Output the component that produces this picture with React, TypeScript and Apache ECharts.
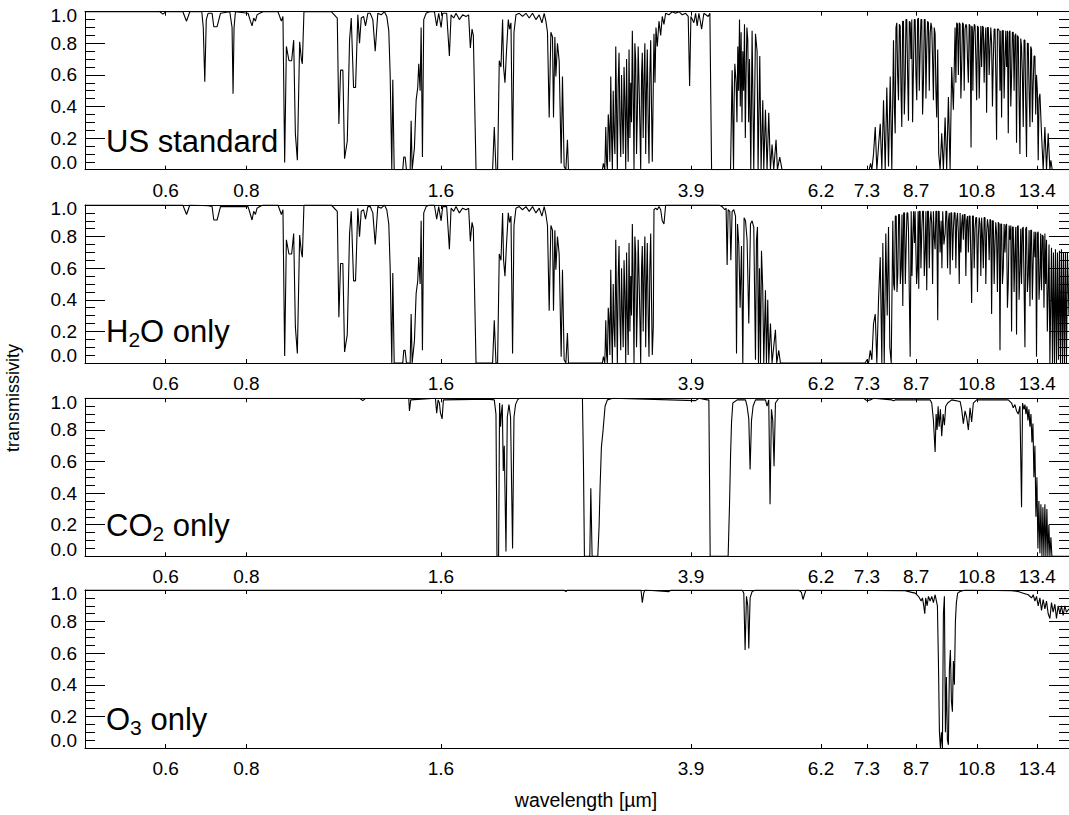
import React, { useEffect, useRef } from 'react';
import * as echarts from 'echarts';

// ---------------- data ----------------
const WL_MIN = 0.45;
const WL_MAX = 15;
const wavelengthTicks = [0.6, 0.8, 1.6, 3.9, 6.2, 7.3, 8.7, 10.8, 13.4];
const transTicks = [0.0, 0.2, 0.4, 0.6, 0.8, 1.0];
const panelNames = ['US standard', 'H2O only', 'CO2 only', 'O3 only'];

// [wavelength µm, transmissivity]
const usVisible: number[][] = [
  [0.45, 1], [0.5877, 1], [0.594, 0.985], [0.6003, 1], [0.6377, 1], [0.6462, 0.94], [0.6538, 1],
  [0.6823, 1], [0.6859, 0.9], [0.6896, 0.556], [0.6933, 0.95], [0.6978, 0.99], [0.7078, 0.99],
  [0.7121, 0.905], [0.7205, 0.905], [0.7293, 0.99], [0.7538, 1], [0.76, 0.9], [0.7627, 0.48],
  [0.7654, 0.9], [0.7692, 1], [0.8045, 0.99], [0.8114, 0.94], [0.8161, 0.91], [0.821, 0.96],
  [0.826, 0.94], [0.8307, 0.98], [0.8387, 0.99], [0.8486, 1], [0.8951, 1], [0.9005, 0.97],
  [0.906, 0.94], [0.9111, 0.97],
];

const h2oVisible: number[][] = [
  [0.45, 1], [0.6377, 1], [0.6462, 0.94], [0.6538, 1], [0.6978, 0.995], [0.7078, 0.99],
  [0.7121, 0.905], [0.7205, 0.905], [0.7293, 0.99], [0.8045, 0.99], [0.8114, 0.94], [0.8161, 0.905],
  [0.821, 0.96], [0.826, 0.94], [0.8307, 0.98], [0.8387, 0.99], [0.8486, 1], [0.8951, 1],
  [0.9005, 0.97], [0.906, 0.94], [0.9111, 0.97],
];

const h2oNearIR: number[][] = [
  [0.9167, 0.045], [0.9223, 0.78], [0.9308, 0.69], [0.9398, 0.69], [0.9466, 0.82], [0.9523, 0.23],
  [0.9591, 0.06], [0.967, 0.81], [0.9729, 0.7], [0.9763, 0.67], [0.9819, 1], [1.0823, 1],
  [1.1057, 0.96], [1.112, 0.29], [1.1188, 0.63], [1.128, 0.63], [1.1348, 0.07], [1.1458, 0.18],
  [1.1552, 0.82], [1.1622, 0.96], [1.1718, 0.52], [1.1801, 0.52], [1.1898, 0.98], [1.197, 0.8],
  [1.2043, 0.96], [1.2142, 0.97], [1.2228, 0.91], [1.2329, 0.99], [1.2435, 0.99], [1.2551, 0.95],
  [1.2658, 0.75], [1.2775, 0.99], [1.2931, 0.98], [1.3083, 1], [1.3191, 0.97], [1.3285, 0.88],
  [1.3351, 0.6], [1.3428, 0], [1.3476, 0.57], [1.3543, 0], [1.3964, 0], [1.4014, 0.08],
  [1.4083, 0.08], [1.4148, 0], [1.4336, 0], [1.4387, 0.31], [1.4439, 0], [1.4557, 0.14],
  [1.4645, 0.44], [1.4729, 0.52], [1.4782, 0.67], [1.4855, 0.5], [1.4909, 0.9], [1.4978, 0.08],
  [1.5047, 0.95], [1.5176, 0.99], [1.5355, 1], [1.563, 1], [1.5758, 0.91], [1.5871, 0.99],
  [1.6008, 0.9], [1.6099, 0.99], [1.6329, 0.99], [1.6487, 0.72], [1.6587, 0.98], [1.6742, 0.96],
  [1.6884, 0.99], [1.7083, 0.95], [1.7286, 0.98], [1.7496, 0.97], [1.7658, 0.98], [1.7766, 0.77],
  [1.7874, 0.89], [1.7957, 0.85], [1.8039, 0.44], [1.8129, 0], [1.9232, 0], [1.9348, 0.27],
  [1.9465, 0], [1.9577, 0], [1.9695, 0.69], [1.9815, 0.65], [1.9929, 0.95], [2.0, 0.65],
  [2.0099, 0.55], [2.0214, 0.76], [2.0337, 0.95], [2.0431, 0.89], [2.0533, 0.93], [2.0651, 0.06],
  [2.0754, 0.87], [2.0901, 0.98], [2.1148, 0.99], [2.1398, 0.97], [2.1658, 0.99], [2.1914, 0.96],
  [2.2173, 0.99], [2.2441, 0.95], [2.2707, 0.98], [2.2927, 0.93], [2.3114, 0.99], [2.3254, 0.94],
  [2.3387, 0.87], [2.3529, 0.33], [2.3672, 0.87], [2.3808, 0.84], [2.3893, 0.33], [2.4011, 0.84],
  [2.4096, 0.59], [2.4234, 0.8], [2.4381, 0.69], [2.4556, 0.04], [2.467, 0.59], [2.4818, 0.02],
  [2.4969, 0], [2.5111, 0.19], [2.5201, 0], [2.8442, 0],
];

const h2oBand3um: number[][] = [
  [2.8543, 0.04], [2.8684, 0], [2.8735, 0.12], [2.8786, 0.27], [2.887, 0.05], [2.895, 0],
  [2.904, 0.35], [2.9126, 0.27], [2.921, 0.05], [2.9303, 0.59], [2.939, 0.2], [2.9471, 0],
  [2.956, 0.5], [2.9648, 0.23], [2.974, 0.1], [2.9828, 0.78], [2.991, 0.4], [2.9998, 0],
  [3.009, 0.55], [3.018, 0.74], [3.027, 0.3], [3.0364, 0.08], [3.045, 0.6], [3.0538, 0.33],
  [3.063, 0.1], [3.0722, 0.65], [3.081, 0.45], [3.0908, 0], [3.1, 0.7], [3.1085, 0.31],
  [3.118, 0.05], [3.1274, 0.76], [3.137, 0.2], [3.1464, 0.55], [3.155, 0.3], [3.1644, 0.88],
  [3.174, 0.5], [3.1834, 0], [3.193, 0.8], [3.2027, 0.69], [3.212, 0.1], [3.221, 0.33],
  [3.231, 0.78], [3.2406, 0.55], [3.25, 0.3], [3.2603, 0], [3.27, 0.6], [3.2789, 0.74],
  [3.289, 0.2], [3.2987, 0.57], [3.309, 0.8], [3.3187, 0.1], [3.328, 0.5], [3.3377, 0.76],
  [3.348, 0.3], [3.3579, 0.04], [3.368, 0.6], [3.3784, 0.82], [3.388, 0.4], [3.3977, 0.05],
];

const usMidIR: number[][] = [
  [3.4181, 0.86], [3.4303, 0.55], [3.4425, 0.9], [3.4585, 0.78], [3.4795, 0.94], [3.5007, 0.85],
  [3.5207, 0.97], [3.5418, 0.92], [3.5633, 0.99], [3.6054, 0.98], [3.6481, 1], [3.6924, 0.99],
  [3.736, 1], [3.7802, 0.98], [3.8261, 0.99], [3.8617, 0.97], [3.881, 0.53], [3.899, 0.97],
  [3.9406, 0.93], [3.9645, 0.99], [3.9872, 0.91], [4.0114, 0.99], [4.0358, 0.93], [4.0502, 0.89],
  [4.0833, 0.99], [4.1463, 0.97], [4.1715, 0.99], [4.1969, 0], [4.463, 0],
  [4.4902, 0], [4.5159, 0.63], [4.5385, 0], [4.549, 0.45], [4.5592, 0.67], [4.5803, 0.55],
  [4.594, 0.3], [4.6081, 0.78], [4.622, 0.5], [4.6361, 0.95], [4.649, 0.4], [4.6627, 0.87],
  [4.677, 0.3], [4.691, 0.75], [4.705, 0.5], [4.7193, 0.92], [4.733, 0.2], [4.7462, 0.6],
  [4.76, 0.9], [4.775, 0.82], [4.79, 0.3], [4.804, 0.7], [4.8263, 0], [4.8488, 0.88], [4.878, 0],
  [4.9076, 0.86], [4.9357, 0.75], [4.9533, 0], [4.9834, 0.72], [5.0065, 0], [5.0369, 0.44],
  [5.0546, 0], [5.0853, 0.38], [5.1143, 0], [5.1454, 0.36], [5.1767, 0], [5.2063, 0.16],
  [5.2376, 0], [5.2807, 0.19], [5.3071, 0], [5.3507, 0.08], [5.3948, 0], [7.3614, 0],
  [7.3956, 0.04], [7.43, 0], [7.4746, 0.1], [7.52, 0.27], [7.563, 0], [7.6088, 0.15],
  [7.6552, 0.29], [7.6989, 0], [7.7452, 0.44], [7.7922, 0], [7.8368, 0.52], [7.8843, 0.02],
  [7.9323, 0.59], [7.9776, 0], [8.0257, 0.82], [8.05, 0.4], [8.0744, 0.23], [8.097, 0.9],
  [8.1206, 0.93], [8.145, 0.6], [8.1698, 0.44], [8.195, 0.92], [8.2196, 0.91], [8.243, 0.5],
  [8.2666, 0.27], [8.291, 0.94], [8.3162, 0.94], [8.341, 0.35], [8.3667, 0.55], [8.39, 0.95],
  [8.4145, 0.95], [8.44, 0.6], [8.4656, 0.31], [8.491, 0.94], [8.5171, 0.93], [8.541, 0.7],
  [8.5658, 0.95], [8.591, 0.3], [8.6173, 0.65], [8.643, 0.95], [8.6696, 0.95], [8.694, 0.6],
  [8.7192, 0.44], [8.745, 0.95], [8.7721, 0.96], [8.798, 0.5], [8.8255, 0.76], [8.85, 0.95],
  [8.8759, 0.95], [8.902, 0.35], [8.9293, 0.55], [8.956, 0.95], [8.9835, 0.95], [9.009, 0.45],
  [9.0348, 0.76], [9.062, 0.94], [9.0897, 0.93], [9.117, 0.5], [9.145, 0.86], [9.171, 0.93],
  [9.1973, 0.9], [9.225, 0.7], [9.2526, 0.44], [9.28, 0.9], [9.3088, 0.86], [9.335, 0.5],
  [9.362, 0.33], [9.3954, 0.76], [9.4289, 0.1], [9.4761, 0], [9.5303, 0.23], [9.5876, 0],
  [9.6458, 0.33], [9.7009, 0], [9.7598, 0.46], [9.8192, 0], [9.8753, 0.65], [9.9347, 0.38],
  [9.995, 0.9], [10.023, 0.55], [10.052, 0.93], [10.082, 0.92], [10.113, 0.6], [10.144, 0.93],
  [10.175, 0.92], [10.204, 0.45], [10.233, 0.65], [10.263, 0.93], [10.294, 0.92], [10.325, 0.5],
  [10.356, 0.89], [10.386, 0.92], [10.416, 0.91], [10.447, 0.7], [10.479, 0.55], [10.511, 0.92],
  [10.543, 0.91], [10.56, 0.6], [10.58, 0.14], [10.605, 0.91], [10.629, 0.9], [10.65, 0.5],
  [10.678, 0.86], [10.705, 0.92], [10.732, 0.91], [10.762, 0.7], [10.793, 0.44], [10.826, 0.91],
  [10.859, 0.9], [10.892, 0.45], [10.925, 0.7], [10.956, 0.91], [10.987, 0.65], [11.02, 0.91],
  [11.053, 0.9], [11.086, 0.55], [11.12, 0.8], [11.152, 0.9], [11.184, 0.36], [11.218, 0.9],
  [11.252, 0.9], [11.286, 0.6], [11.32, 0.78], [11.352, 0.9], [11.385, 0.8], [11.419, 0.4],
  [11.453, 0.69], [11.488, 0.89], [11.523, 0.89], [11.555, 0.6], [11.588, 0.19], [11.623, 0.89],
  [11.659, 0.89], [11.694, 0.88], [11.73, 0.5], [11.763, 0.88], [11.797, 0.33], [11.832, 0.88],
  [11.868, 0.88], [11.904, 0.45], [11.94, 0.7], [11.974, 0.88], [12.008, 0.65], [12.045, 0.88],
  [12.081, 0.23], [12.118, 0.87], [12.155, 0.88], [12.19, 0.4], [12.224, 0.59], [12.26, 0.87],
  [12.297, 0.87], [12.334, 0.5], [12.372, 0.85], [12.407, 0.86], [12.442, 0.17], [12.48, 0.85],
  [12.518, 0.84], [12.556, 0.45], [12.594, 0.1], [12.63, 0.83], [12.666, 0.78], [12.704, 0.6],
  [12.743, 0.27], [12.78, 0.82], [12.82, 0.82], [12.857, 0.4], [12.894, 0.08], [12.933, 0.8],
  [12.972, 0.8], [13.011, 0.5], [13.051, 0.27], [13.088, 0.78], [13.125, 0.76], [13.164, 0.3],
  [13.204, 0.55], [13.244, 0.72], [13.284, 0.72], [13.322, 0.35], [13.36, 0.6], [13.4, 0.5],
  [13.441, 0.06], [13.48, 0.45], [13.523, 0.48], [13.6, 0.23], [13.682, 0], [13.765, 0.27],
  [13.844, 0], [13.928, 0.23], [14.013, 0], [14.063, 0.06], [14.128, 0], [15, 0],
];

const h2oMidIR: number[][] = [
  [3.4098, 0.23], [3.4181, 0.97], [3.4388, 0.98], [3.4585, 0.97], [3.4795, 0.99], [3.5007, 0.97],
  [3.5207, 0.9], [3.5418, 0.88], [3.5633, 1], [4.3071, 1], [4.3581, 0.99], [4.3999, 0.97],
  [4.4203, 0.98], [4.4361, 0.62], [4.452, 0.97], [4.479, 0.96], [4.495, 0.65], [4.5159, 0.96],
  [4.543, 0.97], [4.5706, 0.93], [4.5869, 0.06], [4.6032, 0.88], [4.6246, 0.75], [4.6461, 0.35],
  [4.6694, 0.74], [4.691, 0], [4.7125, 0.92], [4.7361, 0.9], [4.7631, 0.78], [4.792, 0.25],
  [4.8212, 0.88], [4.8488, 0.9], [4.878, 0.86], [4.9076, 0.02], [4.9251, 0.78], [4.9427, 0.86],
  [4.9603, 0], [4.978, 0.6], [4.9959, 0], [5.0137, 0.71], [5.0369, 0.46], [5.0546, 0],
  [5.0853, 0.46], [5.1034, 0], [5.1271, 0.4], [5.1454, 0], [5.1767, 0.25], [5.2063, 0],
  [5.2694, 0.21], [5.2938, 0], [5.3317, 0.08], [5.3641, 0], [7.2573, 0],
  [7.2988, 0.02], [7.3431, 0], [7.3878, 0.08], [7.43, 0.02], [7.4746, 0.25], [7.52, 0.31],
  [7.563, 0], [7.6088, 0.4], [7.6552, 0.67], [7.6989, 0], [7.7264, 0.76], [7.7646, 0],
  [7.8089, 0.82], [7.8479, 0.3], [7.8843, 0.86], [7.921, 0.1], [7.9607, 0], [8.0061, 0.9],
  [8.03, 0.5], [8.0544, 0.46], [8.078, 0.93], [8.1032, 0.93], [8.126, 0.45], [8.1495, 0.56],
  [8.174, 0.94], [8.1991, 0.94], [8.224, 0.5], [8.249, 0.6], [8.272, 0.94], [8.2961, 0.36],
  [8.321, 0.95], [8.3459, 0.95], [8.371, 0.5], [8.3965, 0.75], [8.42, 0.95], [8.4445, 0.95],
  [8.465, 0.85], [8.4867, 0.5], [8.5171, 0.04], [8.5476, 0.96], [8.572, 0.55], [8.5964, 0.8],
  [8.622, 0.96], [8.6481, 0.76], [8.668, 0.96], [8.6881, 0.96], [8.714, 0.5], [8.7409, 0.6],
  [8.761, 0.96], [8.7815, 0.47], [8.803, 0.96], [8.8255, 0.96], [8.85, 0.6], [8.8759, 0.84],
  [8.902, 0.96], [8.9293, 0.96], [8.956, 0.55], [8.9835, 0.7], [9.009, 0.96], [9.0348, 0.46],
  [9.062, 0.96], [9.0897, 0.96], [9.117, 0.6], [9.145, 0.9], [9.171, 0.96], [9.1973, 0.88],
  [9.225, 0.5], [9.2526, 0.96], [9.28, 0.8], [9.3088, 0.72], [9.335, 0.96], [9.362, 0.96],
  [9.3954, 0.27], [9.418, 0.96], [9.4423, 0.96], [9.476, 0.7], [9.51, 0.9], [9.537, 0.6],
  [9.5643, 0.96], [9.605, 0.75], [9.6458, 0.82], [9.673, 0.96], [9.7009, 0.96], [9.73, 0.6],
  [9.7598, 0.9], [9.79, 0.95], [9.8192, 0.56], [9.847, 0.95], [9.8753, 0.95], [9.905, 0.65],
  [9.9347, 0.85], [9.965, 0.95], [9.995, 0.95], [10.023, 0.6], [10.052, 0.9], [10.082, 0.95],
  [10.113, 0.82], [10.144, 0.5], [10.175, 0.95], [10.204, 0.7], [10.233, 0.88], [10.263, 0.94],
  [10.294, 0.78], [10.325, 0.94], [10.356, 0.94], [10.386, 0.55], [10.416, 0.9], [10.447, 0.93],
  [10.479, 0.7], [10.511, 0.93], [10.543, 0.93], [10.573, 0.65], [10.603, 0.38], [10.635, 0.93],
  [10.667, 0.93], [10.7, 0.6], [10.732, 0.85], [10.762, 0.92], [10.793, 0.92], [10.826, 0.45],
  [10.859, 0.8], [10.892, 0.92], [10.925, 0.88], [10.956, 0.55], [10.987, 0.92], [11.02, 0.8],
  [11.053, 0.6], [11.086, 0.92], [11.12, 0.92], [11.152, 0.5], [11.184, 0.82], [11.218, 0.91],
  [11.252, 0.86], [11.286, 0.65], [11.32, 0.91], [11.352, 0.9], [11.385, 0.31], [11.419, 0.9],
  [11.453, 0.9], [11.488, 0.5], [11.523, 0.76], [11.555, 0.89], [11.588, 0.82], [11.623, 0.45],
  [11.659, 0.89], [11.694, 0.88], [11.73, 0.08], [11.763, 0.88], [11.797, 0.88], [11.832, 0.5],
  [11.868, 0.6], [11.904, 0.88], [11.94, 0.7], [11.974, 0.87], [12.008, 0.88], [12.045, 0.35],
  [12.081, 0.5], [12.118, 0.87], [12.155, 0.78], [12.19, 0.87], [12.224, 0.2], [12.26, 0.86],
  [12.297, 0.86], [12.334, 0.45], [12.372, 0.7], [12.407, 0.86], [12.442, 0.18], [12.48, 0.86],
  [12.518, 0.87], [12.556, 0.4], [12.594, 0.58], [12.63, 0.85], [12.666, 0.5], [12.704, 0.85],
  [12.743, 0.86], [12.78, 0.5], [12.82, 0.1], [12.857, 0.85], [12.894, 0.86], [12.933, 0.45],
  [12.972, 0.55], [13.011, 0.84], [13.051, 0.36], [13.088, 0.84], [13.125, 0.84], [13.164, 0.4],
  [13.204, 0.65], [13.244, 0.83], [13.284, 0.67], [13.322, 0.83], [13.36, 0.04], [13.4, 0.82],
  [13.441, 0.83], [13.48, 0.4], [13.523, 0.55], [13.56, 0.82], [13.6, 0.46], [13.64, 0.81],
  [13.682, 0.8], [13.72, 0.35], [13.765, 0.82], [13.8, 0.5], [13.844, 0.78], [13.885, 0.2],
  [13.928, 0.46], [13.97, 0.75], [14.013, 0], [14.093, 0.73], [14.143, 0], [14.192, 0.7],
  [14.243, 0], [14.294, 0.72], [14.345, 0], [14.396, 0.7], [14.447, 0.02], [14.499, 0.71],
  [14.551, 0], [14.602, 0.72], [14.655, 0], [14.706, 0.7], [14.758, 0], [14.811, 0.7],
  [14.864, 0], [14.917, 0.7], [15, 0.3],
];

const co2Only: number[][] = [
  [0.45, 1], [1.197, 1], [1.2112, 0.985], [1.2228, 1], [1.4265, 1], [1.43, 0.92], [1.4367, 0.99],
  [1.5686, 1], [1.5758, 0.905], [1.5837, 0.99], [1.5911, 0.97], [1.5968, 0.91], [1.6065, 0.87],
  [1.6139, 0.99], [1.8893, 0.995], [1.9348, 0.99], [1.9465, 0.9], [1.9535, 0], [1.9647, 0],
  [1.9717, 0.97], [1.9787, 0.82], [1.9836, 0.9], [1.9907, 0.96], [1.9978, 0.54], [2.0049, 0.7],
  [2.0171, 0.03], [2.0264, 0.88], [2.0387, 0.96], [2.0504, 0.88], [2.0651, 0.05], [2.0754, 0.88],
  [2.0871, 0.96], [2.1021, 0.99], [2.1148, 1], [2.6489, 1], [2.6583, 0.6], [2.6677, 0],
  [2.7194, 0], [2.7292, 0.43], [2.7418, 0], [2.7979, 0], [2.8109, 0.19], [2.8209, 0.44],
  [2.8341, 0.69], [2.8513, 0.8], [2.8714, 0.95], [2.895, 0.99], [2.95, 1], [3.9645, 0.985],
  [4.0114, 1], [4.1316, 0.99], [4.1566, 0.99], [4.176, 0], [4.452, 0], [4.4742, 0.33],
  [4.4902, 0.63], [4.5063, 0.85], [4.5271, 0.97], [4.5967, 0.99], [4.7361, 0.99], [4.7631, 0.95],
  [4.792, 0.87], [4.8144, 0.55], [4.8385, 0.86], [4.8661, 0.95], [4.9076, 0.99], [5.0853, 0.99],
  [5.1143, 0.95], [5.1454, 0.99], [5.1693, 0.33], [5.1952, 0.93], [5.2193, 0.86], [5.2432, 0.57],
  [5.2694, 0.97], [5.3317, 1], [7.2135, 1], [7.2988, 0.985], [7.3878, 0.99], [7.4746, 1],
  [7.9776, 0.99], [8.0257, 0.985], [8.0744, 0.99], [9.145, 0.99], [9.1973, 0.97], [9.2526, 0.86],
  [9.3088, 0.66], [9.342, 0.9], [9.3753, 0.8], [9.4088, 0.95], [9.4423, 0.82], [9.4861, 0.93],
  [9.5303, 0.76], [9.5779, 0.9], [9.6218, 0.83], [9.6664, 0.95], [9.7355, 0.97], [9.8753, 0.99],
  [10.175, 0.98], [10.233, 0.93], [10.294, 0.84], [10.356, 0.92], [10.416, 0.88], [10.479, 0.8],
  [10.543, 0.94], [10.603, 0.85], [10.667, 0.97], [10.793, 0.99], [12.081, 0.99], [12.224, 0.97],
  [12.297, 0.94], [12.372, 0.96], [12.442, 0.92], [12.518, 0.9], [12.594, 0.95], [12.666, 0.31],
  [12.711, 0.97], [12.775, 0.93], [12.82, 0.96], [12.866, 0.9], [12.912, 0.95], [12.958, 0.86],
  [13.004, 0.93], [13.051, 0.82], [13.098, 0.9], [13.144, 0.72], [13.191, 0.84], [13.237, 0.5],
  [13.284, 0.7], [13.332, 0.25], [13.379, 0.5], [13.427, 0.05], [13.475, 0.35], [13.523, 0.02],
  [13.571, 0.33], [13.62, 0], [13.668, 0.31], [13.716, 0], [13.765, 0.33], [13.814, 0],
  [13.863, 0.3], [13.913, 0], [13.962, 0.2], [14.013, 0], [14.063, 0.12], [14.113, 0], [15, 0],
];

const o3Only: number[][] = [
  [0.45, 1], [2.4818, 1], [2.4969, 0.99], [2.5111, 1], [3.2637, 1], [3.2789, 0.92], [3.2953, 0.98],
  [3.3105, 1], [3.6054, 0.99], [3.6312, 1], [4.6793, 1], [4.7075, 0.98], [4.7293, 0.62],
  [4.753, 0.96], [4.775, 0.9], [4.792, 0.63], [4.8144, 0.95], [4.8488, 0.99], [4.9076, 1],
  [5.7247, 1], [5.7802, 0.985], [5.8132, 0.94], [5.8419, 0.97], [5.8752, 1], [8.3667, 0.995],
  [8.5658, 0.985], [8.6696, 0.98], [8.7721, 0.96], [8.857, 0.93], [8.898, 0.95], [8.9389, 0.9],
  [8.9707, 0.85], [9.0027, 0.95], [9.0477, 0.9], [9.0897, 0.96], [9.145, 0.93], [9.1973, 0.96],
  [9.2526, 0.92], [9.3088, 0.97], [9.3519, 0.93], [9.3853, 0.9], [9.4188, 0.55], [9.4525, 0.1],
  [9.4861, 0], [9.52, 0.1], [9.5541, 0], [9.5876, 0.85], [9.6218, 0.96], [9.6561, 0.1],
  [9.6905, 0.45], [9.7251, 0.05], [9.7598, 0.02], [9.7947, 0.5], [9.8296, 0.62], [9.8647, 0.3],
  [9.9, 0.23], [9.9347, 0.55], [9.9702, 0.4], [10.006, 0.8], [10.041, 0.92], [10.088, 0.98],
  [10.175, 0.99], [10.356, 1], [12.224, 0.995], [12.518, 0.99], [12.743, 0.98], [12.972, 0.97],
  [13.125, 0.95], [13.204, 0.97], [13.284, 0.93], [13.36, 0.96], [13.441, 0.9], [13.523, 0.95],
  [13.6, 0.87], [13.682, 0.94], [13.765, 0.88], [13.844, 0.93], [13.928, 0.85], [14.013, 0.82],
  [14.093, 0.92], [14.177, 0.86], [14.263, 0.91], [14.345, 0.82], [14.432, 0.9], [14.52, 0.85],
  [14.602, 0.9], [14.69, 0.84], [14.779, 0.9], [14.864, 0.86], [15, 0.88],
];

const usStandard = [...usVisible, ...h2oNearIR, ...h2oBand3um, ...usMidIR];
const h2oOnly = [...h2oVisible, ...h2oNearIR, ...h2oBand3um, ...h2oMidIR];
const panelSeries = [usStandard, h2oOnly, co2Only, o3Only];

// ---------------- layout ----------------
const FONT = "'Liberation Sans', Arial, Helvetica, sans-serif";
const GRID_LEFT = 85;
const GRID_WIDTH = 986.4;
const GRID_HEIGHT = 158;
const gridTops = [11.7, 205, 398.3, 590];
const labelCenters = [141.7, 331.7, 525.5, 719.5];
const panelLabelParts: { text: string; sub?: boolean }[][] = [
  [{ text: 'US standard' }],
  [{ text: 'H' }, { text: '2', sub: true }, { text: 'O only' }],
  [{ text: 'CO' }, { text: '2', sub: true }, { text: ' only' }],
  [{ text: 'O' }, { text: '3', sub: true }, { text: ' only' }],
];

const lg = (v: number) => Math.log10(v);
const xTickValues = wavelengthTicks.map(lg);
const xFormatter = (v: number) => {
  let best = wavelengthTicks[0];
  let d = Infinity;
  for (const t of wavelengthTicks) {
    const dd = Math.abs(lg(t) - v);
    if (dd < d) { d = dd; best = t; }
  }
  return best.toFixed(1);
};
const yLabelValues = [0.045, 0.2, 0.4, 0.6, 0.8, 0.975];
const yFormatter = (v: number) => {
  let best = transTicks[0];
  let d = Infinity;
  for (const t of transTicks) {
    const dd = Math.abs(t - v);
    if (dd < d) { d = dd; best = t; }
  }
  return best.toFixed(1);
};

export default function App() {
  const ref = useRef<HTMLDivElement>(null);
  useEffect(() => {
    if (!ref.current) return;
    const chart = echarts.init(ref.current, undefined, { renderer: 'svg' });
    const ctx = document.createElement('canvas').getContext('2d')!;
    const measure = (t: string, size: number) => {
      ctx.font = `${size}px ${FONT}`;
      return ctx.measureText(t).width;
    };

    const grids: any[] = [];
    const xAxes: any[] = [];
    const yAxes: any[] = [];
    const series: any[] = [];
    const axisLine = { show: true, onZero: false, lineStyle: { color: '#000', width: 1 } };

    panelSeries.forEach((data, i) => {
      grids.push({ left: GRID_LEFT, top: gridTops[i], width: GRID_WIDTH, height: GRID_HEIGHT, containLabel: false });
      const xBase = {
        gridIndex: i, type: 'value', min: lg(WL_MIN), max: lg(WL_MAX),
        axisLine, splitLine: { show: false },
        axisTick: { show: true, inside: true, length: 4, customValues: xTickValues, lineStyle: { color: '#000' } },
      };
      xAxes.push({
        ...xBase, position: 'bottom',
        axisLabel: {
          show: true, customValues: xTickValues, formatter: xFormatter, margin: 11,
          fontSize: 19, color: '#000', fontFamily: FONT,
        },
      });
      xAxes.push({ ...xBase, position: 'top', axisLabel: { show: false } });
      const yBase = {
        gridIndex: i, type: 'value', min: 0, max: 1, interval: 0.2,
        axisLine, splitLine: { show: false },
        axisTick: { show: true, inside: true, length: 20, lineStyle: { color: '#000' } },
        minorTick: { show: true, splitNumber: 4, length: 10, lineStyle: { color: '#000' } },
      };
      yAxes.push({
        ...yBase, position: 'left',
        axisLabel: {
          show: true, customValues: yLabelValues, formatter: yFormatter, margin: 8,
          fontSize: 19, color: '#000', fontFamily: FONT,
        },
      });
      yAxes.push({ ...yBase, position: 'right', axisLabel: { show: false } });
      series.push({
        type: 'line', name: panelNames[i], xAxisIndex: 2 * i, yAxisIndex: 2 * i,
        data: data.map((p) => [lg(p[0]), p[1]]),
        symbol: 'none', showSymbol: false, silent: true,
        lineStyle: { color: '#000', width: 1.1 },
      });
    });

    const graphics: any[] = [];
    panelLabelParts.forEach((parts, i) => {
      let x = 106;
      parts.forEach((p) => {
        const size = p.sub ? 21 : 31;
        graphics.push({
          type: 'text', x, y: labelCenters[i] + (p.sub ? 8 : 0), silent: true,
          style: { text: p.text, fontSize: size, fontFamily: FONT, fill: '#000', align: 'left', verticalAlign: 'middle' },
        });
        x += measure(p.text, size);
      });
    });
    graphics.push({
      type: 'text', x: 586, y: 800, silent: true,
      style: { text: 'wavelength [µm]', fontSize: 19.5, fontFamily: FONT, fill: '#000', align: 'center', verticalAlign: 'middle' },
    });
    graphics.push({
      type: 'text', x: 13, y: 398, rotation: Math.PI / 2, silent: true,
      style: { text: 'transmissivity', fontSize: 18, fontFamily: FONT, fill: '#000', align: 'center', verticalAlign: 'middle' },
    });

    chart.setOption({
      animation: false,
      backgroundColor: '#fff',
      grid: grids,
      xAxis: xAxes,
      yAxis: yAxes,
      series,
      graphic: graphics,
    });
    return () => chart.dispose();
  }, []);
  return (
    <div
      ref={ref}
      style={{ position: 'fixed', left: 0, top: 0, width: 1069, height: 815, background: '#fff' }}
    />
  );
}
